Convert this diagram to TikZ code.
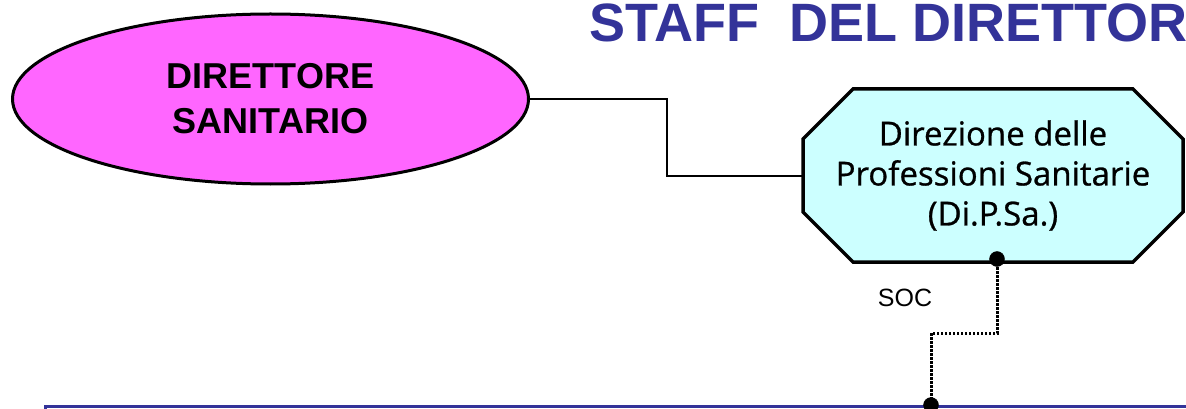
\documentclass[tikz,border=0pt]{standalone}
\usepackage{fontspec}
\setmainfont{Liberation Sans}
\newfontfamily\dipsafont[FakeBold=0.8]{Open Sans}
\usetikzlibrary{shapes.geometric,backgrounds}

\definecolor{titleblue}{HTML}{333399}
\definecolor{dirpink}{HTML}{FF66FF}
\definecolor{dipsacyan}{HTML}{CCFFFF}

\tikzset{
    dirnode/.style={ellipse, draw, line width=3pt, fill=dirpink, minimum width=516pt, minimum height=170pt,
        inner sep=0pt, align=center, font=\fontsize{36}{45}\selectfont\bfseries},
    dipsabox/.style={rectangle, minimum width=380pt, minimum height=173pt, inner sep=0pt, outer sep=0pt,
        align=center, font=\dipsafont\fontsize{33}{40}\selectfont},
    octo/.style={draw, line width=3.5pt, fill=dipsacyan, line join=miter},
    link/.style={line width=2pt},
    socline/.style={line width=3pt, dash pattern=on 2.5pt off 1.5pt},
    titletext/.style={text=titleblue, inner sep=0pt, font=\fontsize{54}{60}\selectfont\bfseries}
}

\begin{document}
\begin{tikzpicture}[x=1pt, y=-1pt]
            \useasboundingbox (0,0) rectangle (1186,409);

            \node[titletext, anchor=base west] (title) at (589,42) {STAFF\ \ DEL DIRETTOR};

            \node[dirnode] (dirsan) at (270.5,99) {DIRETTORE\\SANITARIO};

            \node[dipsabox] (dipsa) at (993,175.5) {Direzione delle\\Professioni Sanitarie\\(Di.P.Sa.)};
            \begin{scope}[on background layer]
                \draw[octo] ([xshift=50pt]dipsa.north west) -- ([xshift=-50pt]dipsa.north east)
                    -- ([yshift=-50pt]dipsa.north east) -- ([yshift=50pt]dipsa.south east)
                    -- ([xshift=-50pt]dipsa.south east) -- ([xshift=50pt]dipsa.south west)
                    -- ([yshift=50pt]dipsa.south west) -- ([yshift=-50pt]dipsa.north west) -- cycle;
            \end{scope}

            \draw[link] (dirsan.east) -- ++(137,0) |- (dipsa.west);

            % staff bar, cut by the page
            \draw[titleblue, line width=3pt] (45,406) rectangle (1300,500);

            \coordinate (socTop) at (997,259);
            \coordinate (socBar) at (931,405);
            \draw[socline] (socTop) -- (997,333) -| (socBar);
            \filldraw (socTop) circle (7.5pt);
            \filldraw (socBar) circle (7.5pt);

            \node[font=\fontsize{25}{28}\selectfont] (soc) at (905,298) {SOC};
        \end{tikzpicture}
\end{document}
